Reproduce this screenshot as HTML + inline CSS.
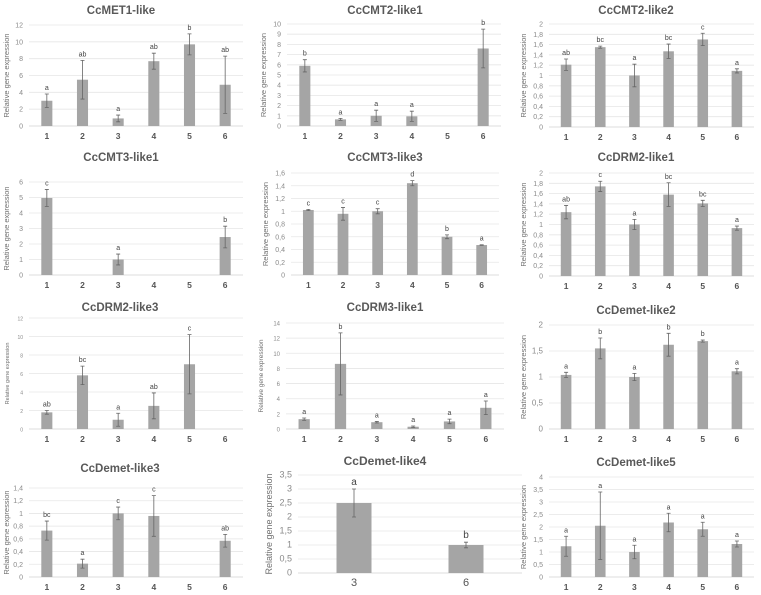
<!DOCTYPE html>
<html><head><meta charset="utf-8"><style>
body{margin:0;background:#fff;}
svg{display:block;font-family:"Liberation Sans",sans-serif;}
</style></head><body>
<svg id="fig" width="761" height="595" viewBox="0 0 761 595"></svg>
<script>
const cats6 = ['1','2','3','4','5','6'];
const cats2 = ['3','6'];
const met1Vals = [3,5.5,0.9,7.7,9.7,4.9];
const met1Err = [0.8,2.3,0.4,0.95,1.25,3.4];
const met1Let = ['a','ab','a','ab','b','ab'];
const cmt2aVals = [5.9,0.65,1,0.95,0,7.6];
const cmt2aErr = [0.6,0.1,0.55,0.5,0,1.9];
const cmt2aLet = ['b','a','a','a','','b'];
const cmt2bVals = [1.21,1.55,1.0,1.47,1.7,1.09];
const cmt2bErr = [0.11,0.02,0.22,0.14,0.12,0.04];
const cmt2bLet = ['ab','bc','a','bc','c','a'];
const cmt3aVals = [4.97,0,1.0,0,0,2.45];
const cmt3aErr = [0.55,0,0.35,0,0,0.7];
const cmt3aLet = ['c','','a','','','b'];
const cmt3bVals = [1.02,0.96,1.0,1.44,0.6,0.47];
const cmt3bErr = [0.01,0.1,0.04,0.04,0.03,0.005];
const cmt3bLet = ['c','c','c','d','b','a'];
const drm2aVals = [1.24,1.74,1.0,1.58,1.41,0.93];
const drm2aErr = [0.13,0.1,0.1,0.23,0.06,0.04];
const drm2aLet = ['ab','c','a','bc','bc','a'];
const drm2bVals = [1.8,5.8,1.0,2.5,7.0,0];
const drm2bErr = [0.2,1.0,0.7,1.4,3.2,0];
const drm2bLet = ['ab','bc','a','ab','c',''];
const drm3Vals = [1.3,8.6,0.9,0.3,1.0,2.8];
const drm3Err = [0.15,4.1,0.1,0.1,0.3,0.9];
const drm3Let = ['a','b','a','a','a','a'];
const dem2Vals = [1.04,1.55,1.0,1.62,1.69,1.11];
const dem2Err = [0.05,0.2,0.07,0.22,0.02,0.05];
const dem2Let = ['a','b','a','b','b','a'];
const dem3Vals = [0.73,0.21,1.0,0.96,0,0.57];
const dem3Err = [0.15,0.07,0.1,0.32,0,0.1];
const dem3Let = ['bc','a','c','c','','ab'];
const dem4Vals = [2.5,1.0];
const dem4Err = [0.5,0.1];
const dem4Let = ['a','b'];
const dem5Vals = [1.23,2.05,1.0,2.18,1.91,1.32];
const dem5Err = [0.4,1.35,0.27,0.37,0.28,0.12];
const dem5Let = ['a','a','a','a','a','a'];

const NS='http://www.w3.org/2000/svg';
const svg=document.getElementById('fig');
function mk(tag,attrs,parent,text){const e=document.createElementNS(NS,tag);for(const k in attrs)e.setAttribute(k,attrs[k]);if(text!==undefined)e.textContent=text;parent.appendChild(e);return e;}
function fmt(v){return (Math.round(v*10)/10).toString().replace('.',',');}

function panel(p){
  const g=mk('g',{},svg);
  
  
  const y=v=>p.bot-(v/p.max)*(p.bot-p.top);
  const band=(p.R-p.L)/p.cats.length;
  const x=i=>p.L+band*(i+0.5);
  const t=mk('text',{x:p.tx,y:p.ty+4,'text-anchor':'middle','font-size':p.big?12:11.5,'font-weight':'bold',fill:'#595959'},g,p.title);
  
  
  const n=Math.round(p.max/p.step);
  for(let k=0;k<=n;k++){
    const v=k*p.step;
    const gl=mk('line',{x1:p.L,x2:p.R,y1:y(v),y2:y(v),stroke:k===0?'#d0d0d0':'#e6e6e6','stroke-width':0.8},g);
    
    
    const tl=mk('text',{x:p.L-6,y:y(v)+2.5,'text-anchor':'end','font-size':p.tf,fill:'#8a8a8a'},g,fmt(v));
    
    
  }
  const yl=mk('text',{transform:`translate(${p.yx},${(p.top+p.bot)/2}) rotate(-90)`,'text-anchor':'middle','font-size':p.yf,fill:'#707070'},g,'Relative gene expression');
  
  
  const bw=p.bw||band*0.31;
  p.cats.forEach((c,i)=>{
    const v=p.vals[i], e=p.err[i];
    const cl=mk('text',{x:x(i),y:p.bot+13,'text-anchor':'middle','font-size':p.big?11:8.5,'font-weight':p.big?'normal':'bold',fill:'#555'},g,c);
    
    
    if(v<=0) return;
    const b=mk('rect',{x:x(i)-bw/2,y:y(v),width:bw,height:p.bot-y(v),fill:'#a5a5a5'},g);
    
    
    const eb=mk('path',{d:`M${x(i)},${y(v+e)}V${y(Math.max(0,v-e))}M${x(i)-2},${y(v+e)}H${x(i)+2}M${x(i)-2},${y(Math.max(0,v-e))}H${x(i)+2}`,stroke:'#666','stroke-width':0.8,fill:'none'},g);
    
    
    if(p.lets[i]){
      const lt=mk('text',{x:x(i),y:y(v+e)-4,'text-anchor':'middle','font-size':p.big?10:7,fill:'#444'},g,p.lets[i]);
      
      
    }
  });
}
const std={tf:7,yf:7.5};
panel({id:'met1',title:'CcMET1-like',cats:cats6,vals:met1Vals,err:met1Err,lets:met1Let,L:29,R:243,top:25,bot:126,max:12,step:2,tx:121,ty:10,yx:9,...std});
panel({id:'cmt2-1',title:'CcCMT2-like1',cats:cats6,vals:cmt2aVals,err:cmt2aErr,lets:cmt2aLet,L:287,R:501,top:24,bot:126,max:10,step:1,tx:385,ty:10,yx:266,...std});
panel({id:'cmt2-2',title:'CcCMT2-like2',cats:cats6,vals:cmt2bVals,err:cmt2bErr,lets:cmt2bLet,L:549,R:754,top:24,bot:127,max:2,step:0.2,tx:636,ty:10,yx:526,...std});
panel({id:'cmt3-1',title:'CcCMT3-like1',cats:cats6,vals:cmt3aVals,err:cmt3aErr,lets:cmt3aLet,L:29,R:243,top:182,bot:275,max:6,step:1,tx:121,ty:157,yx:9,...std});
panel({id:'cmt3-3',title:'CcCMT3-like3',cats:cats6,vals:cmt3bVals,err:cmt3bErr,lets:cmt3bLet,L:291,R:499,top:173,bot:275,max:1.6,step:0.2,tx:385,ty:157,yx:268,...std});
panel({id:'drm2-1',title:'CcDRM2-like1',cats:cats6,vals:drm2aVals,err:drm2aErr,lets:drm2aLet,L:549,R:754,top:173,bot:276,max:2,step:0.2,tx:636,ty:157,yx:526,...std});
panel({id:'drm2-3',title:'CcDRM2-like3',cats:cats6,vals:drm2bVals,err:drm2bErr,lets:drm2bLet,L:29,R:243,top:318,bot:429,max:12,step:2,tx:120,ty:307,yx:9,tf:5,yf:5.5});
panel({id:'drm3-1',title:'CcDRM3-like1',cats:cats6,vals:drm3Vals,err:drm3Err,lets:drm3Let,L:286,R:504,top:323,bot:429,max:14,step:2,tx:385,ty:307,yx:263,tf:6,yf:6.5});
panel({id:'demet2',title:'CcDemet-like2',cats:cats6,vals:dem2Vals,err:dem2Err,lets:dem2Let,L:549,R:754,top:325,bot:429,max:2,step:0.5,tx:636,ty:310,yx:526,tf:8,yf:7.5});
panel({id:'demet3',title:'CcDemet-like3',cats:cats6,vals:dem3Vals,err:dem3Err,lets:dem3Let,L:29,R:243,top:488,bot:577,max:1.4,step:0.2,tx:120,ty:468,yx:9,...std});
panel({id:'demet4',title:'CcDemet-like4',cats:cats2,vals:dem4Vals,err:dem4Err,lets:dem4Let,L:298,R:522,top:475,bot:573,max:3.5,step:0.5,tx:385,ty:461,yx:272,tf:9,yf:9,big:true,bw:35});
panel({id:'demet5',title:'CcDemet-like5',cats:cats6,vals:dem5Vals,err:dem5Err,lets:dem5Let,L:549,R:754,top:477,bot:577,max:4,step:0.5,tx:636,ty:462,yx:526,...std});
</script>
</body></html>
